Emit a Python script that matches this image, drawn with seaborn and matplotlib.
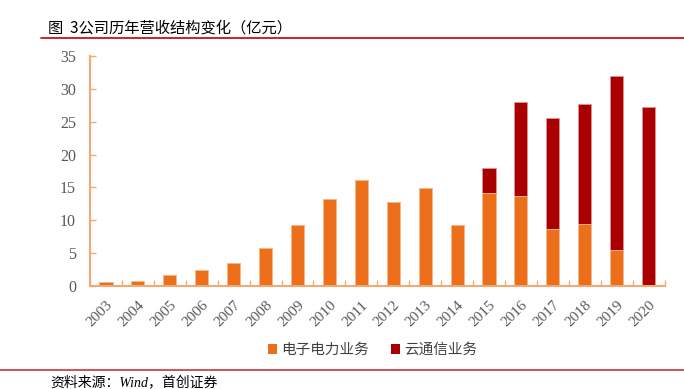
import numpy as np
import pandas as pd
import matplotlib
matplotlib.use("Agg")
import matplotlib.pyplot as plt
import seaborn as sns
from matplotlib.patches import Patch
from matplotlib.lines import Line2D

# ============================== DATA ==============================
years = [str(y) for y in range(2003, 2021)]
power_biz = [0.55, 0.75, 1.6, 2.4, 3.5, 5.8, 9.2, 13.3, 16.2, 12.8,
             14.9, 9.2, 14.1, 13.7, 8.6, 9.5, 5.5, 0.1]
cloud_biz = [0, 0, 0, 0, 0, 0, 0, 0, 0, 0,
             0, 0, 3.9, 14.3, 16.9, 18.2, 26.5, 27.2]
y_ticks = [0, 5, 10, 15, 20, 25, 30, 35]

title = "图  3公司历年营收结构变化（亿元）"
source = "资料来源：Wind，首创证券"
labels = ["电子电力业务", "云通信业务"]

# ============================== STYLE ==============================
sns.set_theme(style="white")
plt.rcParams['font.family'] = ['Noto Sans CJK SC', 'DejaVu Sans']
orange = "#EC6F1A"
darkred = "#A80000"
spine_c = "#F2A872"

df = pd.DataFrame({"year": years, "power": power_biz, "cloud": cloud_biz})
df["total"] = df["power"] + df["cloud"]

fig = plt.figure(figsize=(6.84, 3.89), dpi=100)
ax = fig.add_axes([0.1316, 0.265, 0.84, 0.591])

# stacked bars: total in dark red, power business drawn over it
sns.barplot(data=df, x="year", y="total", color=darkred, saturation=1,
            width=0.41, edgecolor="#E89090", linewidth=0.6, ax=ax)
sns.barplot(data=df, x="year", y="power", color=orange, saturation=1,
            width=0.41, edgecolor="#F7C29A", linewidth=0.6, ax=ax)

ax.set_ylim(0, 35)
ax.set_xlim(-0.5, len(years) - 0.5)
ax.set_yticks(y_ticks)
ax.set_xlabel("")
ax.set_ylabel("")

for s in ["top", "right"]:
    ax.spines[s].set_visible(False)
for s in ["left", "bottom"]:
    ax.spines[s].set_color(spine_c)
    ax.spines[s].set_linewidth(1.5)

ax.tick_params(axis="y", direction="in", length=4, color=spine_c, width=1,
               labelsize=11.5, labelcolor="#595959", pad=10, left=True)
ax.tick_params(axis="x", which="major", length=0, labelsize=11,
               labelcolor="#595959", pad=9)
ax.set_xticks(np.arange(len(years) + 1) - 0.5, minor=True)
ax.tick_params(axis="x", which="minor", direction="in", length=4,
               color=spine_c, width=1, bottom=True)
for lab in ax.get_yticklabels():
    lab.set_fontfamily(["Liberation Serif"])
for lab in ax.get_xticklabels():
    lab.set_fontfamily(["Liberation Serif"])
    lab.set_rotation(45)
    lab.set_ha("right")
    lab.set_rotation_mode("anchor")

# Legend
handles = [Patch(facecolor=orange, edgecolor="none"),
           Patch(facecolor=darkred, edgecolor="none")]
fig.legend(handles, labels, loc="center", bbox_to_anchor=(0.545, 0.1),
           ncol=2, frameon=False, fontsize=10.5, handlelength=0.6,
           handleheight=0.6, handletextpad=0.3, columnspacing=1.5,
           labelcolor="#404040")

# Title, rules and source
fig.text(0.07, 0.928, title, fontsize=11, color="black", va="center",
         family=["Noto Sans CJK SC", "Liberation Serif"])
fig.add_artist(Line2D([0.06, 1.0], [0.903, 0.903], color="#C00000", lw=1.2,
                      transform=fig.transFigure))
fig.add_artist(Line2D([0.0, 1.0], [0.049, 0.049], color="#C8323C", lw=1.2,
                      transform=fig.transFigure))
fig.text(0.073, 0.018, source, fontsize=10, style="italic", color="black",
         va="center", family=["Liberation Serif", "Noto Sans CJK SC"])

fig.savefig("out.png", dpi=100, facecolor="white")
